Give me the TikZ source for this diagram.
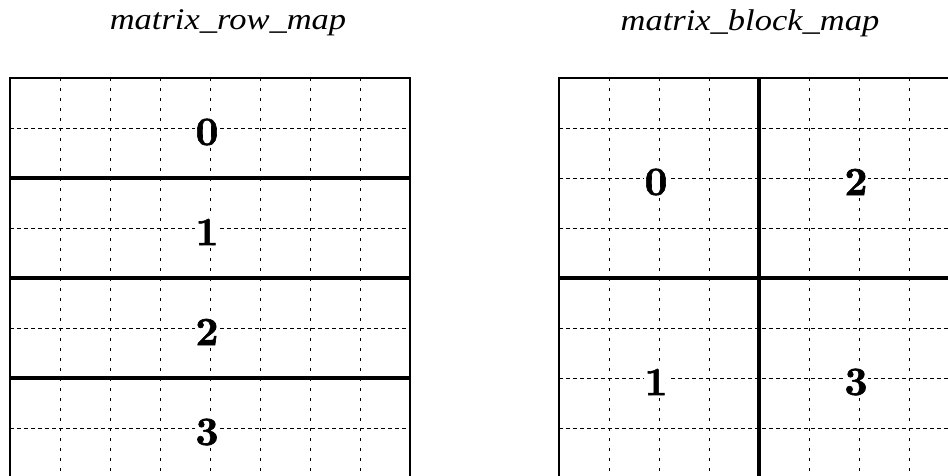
\documentclass[tikz,border=0pt]{standalone}
\usepackage{fontspec}
\newfontfamily\titlefont[FakeStretch=1.15]{Liberation Serif}
\newfontfamily\digitfont{lmroman10-bold}[Extension=.otf, FakeBold=1.5]
\begin{document}
\begin{tikzpicture}[x=1pt,y=-1pt,
  gridh/.style={line width=0.8pt, dash pattern=on 3.5pt off 3.5pt},
  gridv/.style={line width=0.9pt, dash pattern=on 3pt off 7pt},
  border/.style={line width=2.5pt},
  divider/.style={line width=4pt},
  lbl/.style={font=\digitfont\fontsize{40}{46}\selectfont, fill=white, inner sep=0.5pt},
  ttl/.style={font=\titlefont\itshape\fontsize{30}{36}\selectfont}]
\useasboundingbox (0,0) rectangle (948,475);
\clip (0,0) rectangle (948,475);
% left grid
\foreach \x in {60,110,...,360} \draw[gridv] (\x,78) -- (\x,478);
\foreach \y in {128,228,328,428} \draw[gridh] (10,\y) -- (410,\y);
\foreach \y in {178,278,378} \draw[divider] (10,\y) -- (410,\y);
\draw[border] (10,78) rectangle (410,478);
% right grid
\foreach \x in {609,659,709,809,859,909} \draw[gridv] (\x,78) -- (\x,478);
\foreach \y in {128,178,228,328,378,428} \draw[gridh] (559,\y) -- (959,\y);
\draw[divider] (559,278) -- (959,278);
\draw[divider] (759,78) -- (759,478);
\draw[border] (559,78) rectangle (959,478);
% labels
\node[lbl] (r0) at (207,132) {0};
\node[lbl] (r1) at (207,232) {1};
\node[lbl] (r2) at (207,332) {2};
\node[lbl] (r3) at (207,432) {3};
\node[lbl] (b0) at (656,182) {0};
\node[lbl] (b2) at (856,182) {2};
\node[lbl] (b1) at (656,382) {1};
\node[lbl] (b3) at (856,382) {3};
% titles
\node[ttl] (t1) at (228,23) {matrix\_row\_map};
\node[ttl] (t2) at (750,23) {matrix\_block\_map};
\end{tikzpicture}
\end{document}
